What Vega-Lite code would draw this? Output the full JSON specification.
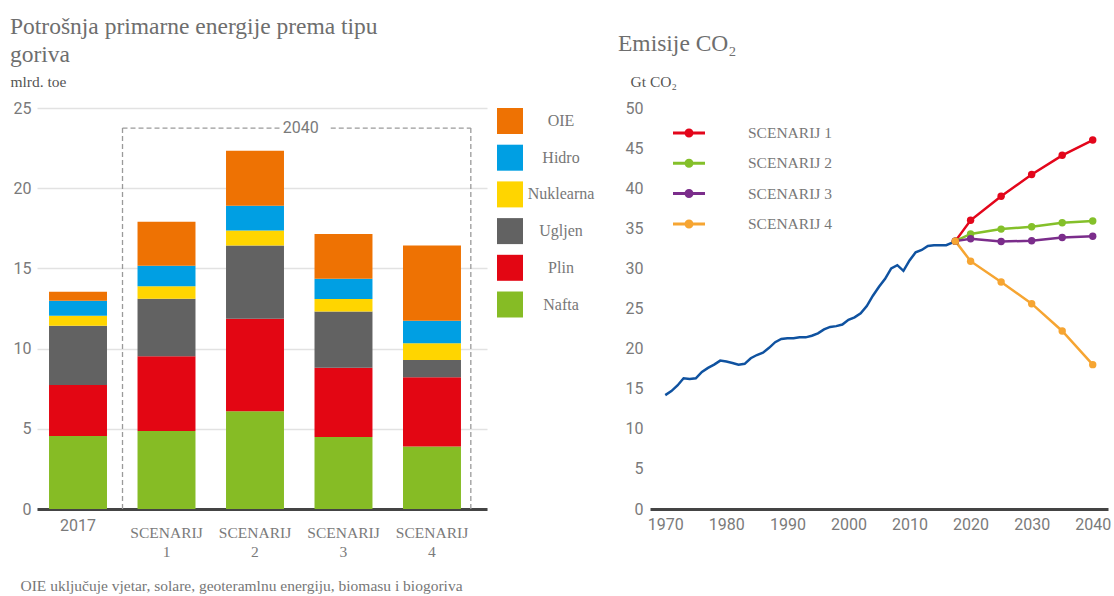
{
  "$schema": "https://vega.github.io/schema/vega-lite/v6.json",
  "background": "white",
  "padding": {"left": 10, "top": 14, "right": 6, "bottom": 4},
  "bounds": "flush",
  "spacing": 163,
  "config": {
    "view": {"stroke": null},
    "font": "Liberation Serif",
    "axis": {
      "labelFont": "Roboto",
      "labelFontSize": 16,
      "labelColor": "#7a7a7a",
      "ticks": false,
      "gridColor": "#e2e2e2",
      "gridWidth": 1.5,
      "titleFont": "Liberation Serif",
      "titleFontWeight": "normal"
    },
    "axisX": {"domainColor": "#444444", "domainWidth": 3, "grid": false},
    "axisY": {"domain": false, "labelPadding": 6},
    "title": {"font": "Liberation Serif", "fontWeight": "normal", "color": "#6e6e6e", "fontSize": 23.5, "anchor": "start"}
  },
  "datasets": {
    "energija": [
      {"grupa": "2017", "tip": "Nafta", "vrijednost": 4.55},
      {"grupa": "2017", "tip": "Plin", "vrijednost": 3.18},
      {"grupa": "2017", "tip": "Ugljen", "vrijednost": 3.70},
      {"grupa": "2017", "tip": "Nuklearna", "vrijednost": 0.62},
      {"grupa": "2017", "tip": "Hidro", "vrijednost": 0.94},
      {"grupa": "2017", "tip": "OIE", "vrijednost": 0.56},
      {"grupa": "SCENARIJ 1", "tip": "Nafta", "vrijednost": 4.86},
      {"grupa": "SCENARIJ 1", "tip": "Plin", "vrijednost": 4.66},
      {"grupa": "SCENARIJ 1", "tip": "Ugljen", "vrijednost": 3.59},
      {"grupa": "SCENARIJ 1", "tip": "Nuklearna", "vrijednost": 0.77},
      {"grupa": "SCENARIJ 1", "tip": "Hidro", "vrijednost": 1.29},
      {"grupa": "SCENARIJ 1", "tip": "OIE", "vrijednost": 2.74},
      {"grupa": "SCENARIJ 2", "tip": "Nafta", "vrijednost": 6.09},
      {"grupa": "SCENARIJ 2", "tip": "Plin", "vrijednost": 5.77},
      {"grupa": "SCENARIJ 2", "tip": "Ugljen", "vrijednost": 4.56},
      {"grupa": "SCENARIJ 2", "tip": "Nuklearna", "vrijednost": 0.95},
      {"grupa": "SCENARIJ 2", "tip": "Hidro", "vrijednost": 1.54},
      {"grupa": "SCENARIJ 2", "tip": "OIE", "vrijednost": 3.43},
      {"grupa": "SCENARIJ 3", "tip": "Nafta", "vrijednost": 4.49},
      {"grupa": "SCENARIJ 3", "tip": "Plin", "vrijednost": 4.32},
      {"grupa": "SCENARIJ 3", "tip": "Ugljen", "vrijednost": 3.51},
      {"grupa": "SCENARIJ 3", "tip": "Nuklearna", "vrijednost": 0.77},
      {"grupa": "SCENARIJ 3", "tip": "Hidro", "vrijednost": 1.27},
      {"grupa": "SCENARIJ 3", "tip": "OIE", "vrijednost": 2.79},
      {"grupa": "SCENARIJ 4", "tip": "Nafta", "vrijednost": 3.89},
      {"grupa": "SCENARIJ 4", "tip": "Plin", "vrijednost": 4.32},
      {"grupa": "SCENARIJ 4", "tip": "Ugljen", "vrijednost": 1.08},
      {"grupa": "SCENARIJ 4", "tip": "Nuklearna", "vrijednost": 1.04},
      {"grupa": "SCENARIJ 4", "tip": "Hidro", "vrijednost": 1.41},
      {"grupa": "SCENARIJ 4", "tip": "OIE", "vrijednost": 4.68}
    ],
    "emisije": [
      {"godina": 1970, "emisije": 14.2, "serija": "Povijest"},
      {"godina": 1971, "emisije": 14.7, "serija": "Povijest"},
      {"godina": 1972, "emisije": 15.4, "serija": "Povijest"},
      {"godina": 1973, "emisije": 16.3, "serija": "Povijest"},
      {"godina": 1974, "emisije": 16.2, "serija": "Povijest"},
      {"godina": 1975, "emisije": 16.3, "serija": "Povijest"},
      {"godina": 1976, "emisije": 17.1, "serija": "Povijest"},
      {"godina": 1977, "emisije": 17.6, "serija": "Povijest"},
      {"godina": 1978, "emisije": 18.0, "serija": "Povijest"},
      {"godina": 1979, "emisije": 18.5, "serija": "Povijest"},
      {"godina": 1980, "emisije": 18.4, "serija": "Povijest"},
      {"godina": 1981, "emisije": 18.2, "serija": "Povijest"},
      {"godina": 1982, "emisije": 18.0, "serija": "Povijest"},
      {"godina": 1983, "emisije": 18.1, "serija": "Povijest"},
      {"godina": 1984, "emisije": 18.8, "serija": "Povijest"},
      {"godina": 1985, "emisije": 19.2, "serija": "Povijest"},
      {"godina": 1986, "emisije": 19.5, "serija": "Povijest"},
      {"godina": 1987, "emisije": 20.1, "serija": "Povijest"},
      {"godina": 1988, "emisije": 20.8, "serija": "Povijest"},
      {"godina": 1989, "emisije": 21.2, "serija": "Povijest"},
      {"godina": 1990, "emisije": 21.3, "serija": "Povijest"},
      {"godina": 1991, "emisije": 21.3, "serija": "Povijest"},
      {"godina": 1992, "emisije": 21.4, "serija": "Povijest"},
      {"godina": 1993, "emisije": 21.4, "serija": "Povijest"},
      {"godina": 1994, "emisije": 21.6, "serija": "Povijest"},
      {"godina": 1995, "emisije": 21.9, "serija": "Povijest"},
      {"godina": 1996, "emisije": 22.4, "serija": "Povijest"},
      {"godina": 1997, "emisije": 22.7, "serija": "Povijest"},
      {"godina": 1998, "emisije": 22.8, "serija": "Povijest"},
      {"godina": 1999, "emisije": 23.0, "serija": "Povijest"},
      {"godina": 2000, "emisije": 23.6, "serija": "Povijest"},
      {"godina": 2001, "emisije": 23.9, "serija": "Povijest"},
      {"godina": 2002, "emisije": 24.4, "serija": "Povijest"},
      {"godina": 2003, "emisije": 25.3, "serija": "Povijest"},
      {"godina": 2004, "emisije": 26.6, "serija": "Povijest"},
      {"godina": 2005, "emisije": 27.7, "serija": "Povijest"},
      {"godina": 2006, "emisije": 28.7, "serija": "Povijest"},
      {"godina": 2007, "emisije": 30.0, "serija": "Povijest"},
      {"godina": 2008, "emisije": 30.4, "serija": "Povijest"},
      {"godina": 2009, "emisije": 29.7, "serija": "Povijest"},
      {"godina": 2010, "emisije": 31.0, "serija": "Povijest"},
      {"godina": 2011, "emisije": 32.0, "serija": "Povijest"},
      {"godina": 2012, "emisije": 32.3, "serija": "Povijest"},
      {"godina": 2013, "emisije": 32.8, "serija": "Povijest"},
      {"godina": 2014, "emisije": 32.9, "serija": "Povijest"},
      {"godina": 2015, "emisije": 32.9, "serija": "Povijest"},
      {"godina": 2016, "emisije": 32.9, "serija": "Povijest"},
      {"godina": 2017, "emisije": 33.2, "serija": "Povijest"},
      {"godina": 2017.5, "emisije": 33.4, "serija": "Povijest"},
      {"godina": 2017.5, "emisije": 33.4, "serija": "SCENARIJ 1"},
      {"godina": 2020, "emisije": 36.0, "serija": "SCENARIJ 1"},
      {"godina": 2025, "emisije": 39.0, "serija": "SCENARIJ 1"},
      {"godina": 2030, "emisije": 41.7, "serija": "SCENARIJ 1"},
      {"godina": 2035, "emisije": 44.1, "serija": "SCENARIJ 1"},
      {"godina": 2040, "emisije": 46.0, "serija": "SCENARIJ 1"},
      {"godina": 2017.5, "emisije": 33.4, "serija": "SCENARIJ 2"},
      {"godina": 2020, "emisije": 34.3, "serija": "SCENARIJ 2"},
      {"godina": 2025, "emisije": 34.9, "serija": "SCENARIJ 2"},
      {"godina": 2030, "emisije": 35.2, "serija": "SCENARIJ 2"},
      {"godina": 2035, "emisije": 35.7, "serija": "SCENARIJ 2"},
      {"godina": 2040, "emisije": 35.9, "serija": "SCENARIJ 2"},
      {"godina": 2017.5, "emisije": 33.4, "serija": "SCENARIJ 3"},
      {"godina": 2020, "emisije": 33.7, "serija": "SCENARIJ 3"},
      {"godina": 2025, "emisije": 33.35, "serija": "SCENARIJ 3"},
      {"godina": 2030, "emisije": 33.45, "serija": "SCENARIJ 3"},
      {"godina": 2035, "emisije": 33.85, "serija": "SCENARIJ 3"},
      {"godina": 2040, "emisije": 34.0, "serija": "SCENARIJ 3"},
      {"godina": 2017.5, "emisije": 33.4, "serija": "SCENARIJ 4"},
      {"godina": 2020, "emisije": 30.9, "serija": "SCENARIJ 4"},
      {"godina": 2025, "emisije": 28.3, "serija": "SCENARIJ 4"},
      {"godina": 2030, "emisije": 25.6, "serija": "SCENARIJ 4"},
      {"godina": 2035, "emisije": 22.2, "serija": "SCENARIJ 4"},
      {"godina": 2040, "emisije": 18.0, "serija": "SCENARIJ 4"}
    ]
  },
  "resolve": {"scale": {"color": "independent"}, "legend": {"color": "independent"}},
  "hconcat": [
    {
      "width": 450,
      "height": 401,
      "title": {
        "text": ["Potrošnja primarne energije prema tipu", "goriva"],
        "dx": 0,
        "lineHeight": 28,
        "offset": 8
      },
      "layer": [
        {
          "data": {"name": "energija"},
          "transform": [
            {"window": [{"op": "row_number", "as": "redoslijed"}], "groupby": ["grupa"]}
          ],
          "mark": {"type": "bar"},
          "encoding": {
            "x": {
              "field": "grupa",
              "type": "nominal",
              "sort": ["2017", "SCENARIJ 1", "SCENARIJ 2", "SCENARIJ 3", "SCENARIJ 4"],
              "scale": {
                "domain": ["2017", "SCENARIJ 1", "SCENARIJ 2", "SCENARIJ 3", "SCENARIJ 4"],
                "paddingInner": 0.345,
                "paddingOuter": 0.215,
                "align": 0.316
              },
              "axis": {
                "labelAngle": 0,
                "labelExpr": "datum.value == '2017' ? '2017' : split(datum.value, ' ')",
                "labelFont": {"condition": {"test": "datum.value == '2017'", "value": "Roboto"}, "value": "Liberation Serif"},
                "labelFontSize": {"condition": {"test": "datum.value == '2017'", "value": 16}, "value": 15.5},
                "labelPadding": {"condition": {"test": "datum.value == '2017'", "value": 8}, "value": 16},
                "labelLineHeight": 19,
                "title": "OIE uključuje vjetar, solare, geoteramlnu energiju, biomasu i biogoriva",
                "titleFontSize": 15.5,
                "titleColor": "#777777",
                "titleAnchor": "start",
                "titleAlign": "left",
                "titleBaseline": "top",
                "titleX": -17,
                "titleY": 69
              }
            },
            "y": {
              "field": "vrijednost",
              "type": "quantitative",
              "stack": "zero",
              "scale": {"domain": [0, 25], "nice": false},
              "axis": {
                "values": [0, 5, 10, 15, 20, 25],
                "title": "mlrd. toe",
                "titleAngle": 0,
                "titleAlign": "left",
                "titleBaseline": "alphabetic",
                "titleX": -27,
                "titleY": -22,
                "titleFontSize": 15.5,
                "titleColor": "#555555"
              }
            },
            "order": {"field": "redoslijed", "type": "quantitative", "sort": "ascending"},
            "color": {
              "field": "tip",
              "type": "nominal",
              "sort": ["Nafta", "Plin", "Ugljen", "Nuklearna", "Hidro", "OIE"],
              "scale": {
                "domain": ["Nafta", "Plin", "Ugljen", "Nuklearna", "Hidro", "OIE"],
                "range": ["#86bc25", "#e30613", "#626262", "#ffd500", "#009fe3", "#ee7203"]
              },
              "legend": {
                "title": null,
                "orient": "right",
                "offset": 10,
                "padding": 0,
                "values": ["OIE", "Hidro", "Nuklearna", "Ugljen", "Plin", "Nafta"],
                "symbolType": "square",
                "symbolSize": 676,
                "symbolStrokeWidth": 0,
                "symbolOpacity": 1,
                "labelFont": "Liberation Serif",
                "labelFontSize": 16,
                "labelColor": "#777777",
                "labelAlign": "center",
                "labelOffset": 38,
                "rowPadding": 10.7
              }
            }
          }
        },
        {
          "data": {"values": [{"grupa": "SCENARIJ 1"}]},
          "mark": {"type": "rule", "color": "#9a9a9a", "strokeWidth": 1.3, "strokeDash": [5, 3]},
          "encoding": {
            "x": {"field": "grupa", "type": "nominal", "bandPosition": -0.259},
            "y": {"datum": 0, "type": "quantitative"},
            "y2": {"datum": 23.75}
          }
        },
        {
          "data": {"values": [{"grupa": "SCENARIJ 4"}]},
          "mark": {"type": "rule", "color": "#9a9a9a", "strokeWidth": 1.3, "strokeDash": [5, 3]},
          "encoding": {
            "x": {"field": "grupa", "type": "nominal", "bandPosition": 1.17},
            "y": {"datum": 0, "type": "quantitative"},
            "y2": {"datum": 23.75}
          }
        },
        {
          "data": {"values": [{"od": "SCENARIJ 1", "do": "SCENARIJ 2"}]},
          "mark": {"type": "rule", "color": "#9a9a9a", "strokeWidth": 1.3, "strokeDash": [5, 3]},
          "encoding": {
            "x": {"field": "od", "type": "nominal", "bandPosition": -0.259},
            "x2": {"field": "do", "bandPosition": 0.93},
            "y": {"datum": 23.75, "type": "quantitative"}
          }
        },
        {
          "data": {"values": [{"od": "SCENARIJ 3", "do": "SCENARIJ 4"}]},
          "mark": {"type": "rule", "color": "#9a9a9a", "strokeWidth": 1.3, "strokeDash": [5, 3]},
          "encoding": {
            "x": {"field": "od", "type": "nominal", "bandPosition": 0.28},
            "x2": {"field": "do", "bandPosition": 1.17},
            "y": {"datum": 23.75, "type": "quantitative"}
          }
        },
        {
          "data": {"values": [{"grupa": "SCENARIJ 2", "oznaka": "2040"}]},
          "mark": {"type": "text", "font": "Roboto", "fontSize": 16, "color": "#7a7a7a", "baseline": "middle", "align": "center"},
          "encoding": {
            "x": {"field": "grupa", "type": "nominal", "bandPosition": 1.29},
            "y": {"datum": 23.75, "type": "quantitative"},
            "text": {"field": "oznaka"}
          }
        }
      ]
    },
    {
      "width": 458,
      "height": 401,
      "title": {
        "text": "Emisije CO₂",
        "dx": -7,
        "offset": 19
      },
      "layer": [
        {
          "mark": {"type": "rule", "color": "#9a9a9a", "strokeWidth": 1.5, "strokeDash": [6, 4]},
          "encoding": {
            "x": {"datum": 2017.5, "type": "quantitative"},
            "y": {"datum": 0, "type": "quantitative"},
            "y2": {"datum": 50}
          }
        },
        {
          "data": {"name": "emisije"},
          "mark": {"type": "line", "strokeWidth": 2.5},
          "encoding": {
            "x": {
              "field": "godina",
              "type": "quantitative",
              "scale": {"domain": [1967.5, 2042.5], "nice": false, "zero": false},
              "axis": {"values": [1970, 1980, 1990, 2000, 2010, 2020, 2030, 2040], "format": "d", "title": null, "labelPadding": 7}
            },
            "y": {
              "field": "emisije",
              "type": "quantitative",
              "scale": {"domain": [0, 50], "nice": false},
              "axis": {
                "values": [0, 5, 10, 15, 20, 25, 30, 35, 40, 45, 50],
                "title": "Gt CO₂",
                "titleAngle": 0,
                "titleAlign": "left",
                "titleBaseline": "alphabetic",
                "titleX": -20,
                "titleY": -22,
                "titleFontSize": 15.5,
                "titleColor": "#555555",
                "labelPadding": 7
              }
            },
            "stroke": {
              "field": "serija",
              "type": "nominal",
              "scale": {
                "domain": ["Povijest", "SCENARIJ 1", "SCENARIJ 2", "SCENARIJ 3", "SCENARIJ 4"],
                "range": ["#0f52a0", "#e3061b", "#84c02a", "#7b2d8b", "#f6a532"]
              },
              "legend": null
            }
          }
        },
        {
          "data": {"name": "emisije"},
          "transform": [{"filter": "datum.serija != 'Povijest'"}],
          "mark": {"type": "point", "filled": true, "size": 55, "opacity": 1},
          "encoding": {
            "x": {"field": "godina", "type": "quantitative"},
            "y": {"field": "emisije", "type": "quantitative"},
            "color": {
              "field": "serija",
              "type": "nominal",
              "scale": {
                "domain": ["SCENARIJ 1", "SCENARIJ 2", "SCENARIJ 3", "SCENARIJ 4"],
                "range": ["#e3061b", "#84c02a", "#7b2d8b", "#f6a532"]
              },
              "legend": {
                "title": null,
                "orient": "none",
                "legendX": 23,
                "legendY": 9,
                "padding": 6,
                "fillColor": "white",
                "symbolType": "M-1.6,-0.15L1.6,-0.15L1.6,0.15L-1.6,0.15Z M-0.45,0A0.45,0.45,0,1,1,0.45,0A0.45,0.45,0,1,1,-0.45,0Z",
                "symbolSize": 400,
                "symbolStrokeWidth": 0,
                "symbolOpacity": 1,
                "labelFont": "Liberation Serif",
                "labelFontSize": 15.5,
                "labelColor": "#777777",
                "labelOffset": 49,
                "rowPadding": 11.3
              }
            }
          }
        }
      ]
    }
  ]
}
